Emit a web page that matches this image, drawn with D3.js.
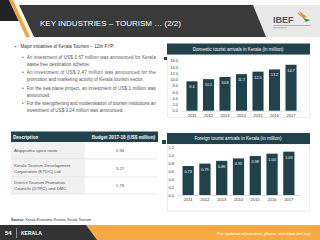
<!DOCTYPE html>
<html>
<head>
<meta charset="utf-8">
<script src="https://cdn.jsdelivr.net/npm/d3@7"></script>
<style>
  body { margin: 0; background: #fff; }
  svg { display: block; font-family: "Liberation Sans", Arial, sans-serif; }
  .axis text { fill: #333; font-size: 4px; }
  .axis path, .axis line { stroke: #bbb; stroke-width: 0.5; }
</style>
</head>
<body>
<script>
// chart data
var years = ["2011", "2012", "2013", "2014", "2015", "2016", "2017"];
var domestic = [9.4, 10.1, 10.8, 11.7, 12.5, 13.2, 14.7];
var foreign = [0.73, 0.79, 0.86, 0.92, 0.98, 1.04, 1.09];
var domesticTicks = [0, 2, 4, 6, 8, 10, 12, 14, 16];
var foreignTicks = [0, 0.2, 0.4, 0.6, 0.8, 1.0, 1.2];

var tableDesc = [["Alappuzha spice route"],
  ["Kerala Tourism Development", "Corporation (KTDC) Ltd."],
  ["District Tourism Promotion", "Councils (DTPC) and DMC"]];
var tableBudget = ["5.94", "3.27", "1.79"];

var bullets = [
  ["An investment of US$ 0.67 million was announced for Kerala", "waste free destination scheme."],
  ["An investment of US$ 2.47 million was announced for the", "promotion and marketing activity of Kerala tourism sector."],
  ["For the sea plane project, an investment of US$ 1 million was", "announced."],
  ["For the strengthening and modernisation of tourism institutions an", "investment of US$ 0.24 million was announced."]
];

var w = 320, h = 240;
var teal = "#21424a";

var svg = d3.select("body").append("svg")
  .attr("width", w)
  .attr("height", h);

//---- header
svg.append("polygon").attr("points", "0,0 9,0 19,21 0,21").attr("fill", "#222");
svg.append("polygon").attr("points", "9,0 13,0 30,37 26,37").attr("fill", "#f2a53f");
svg.append("polygon").attr("points", "253,5 320,5 320,37 266,37").attr("fill", "#e9e9e9");
svg.append("polygon").attr("points", "19,5 253,5 266,37 34,37").attr("fill", "#3a3a3a");
svg.append("text")
  .attr("x", 40).attr("y", 26)
  .attr("fill", "#fff")
  .style("font-size", "8px")
  .text("KEY INDUSTRIES \u2013 TOURISM \u2026 (2/2)");

// logo
svg.append("text")
  .attr("x", 273).attr("y", 23)
  .attr("fill", "#555").style("font-size", "9px").style("font-weight", "bold")
  .text("IBEF");
svg.append("path").attr("d", "M299,11 L307,17 L303,18 Z").attr("fill", "#f08a2b");
svg.append("path").attr("d", "M303,18 L310,20 L306,22 Z").attr("fill", "#2e9a48");
svg.append("line").attr("x1", 298).attr("y1", 13).attr("x2", 304).attr("y2", 18)
  .attr("stroke", "#f08a2b").attr("stroke-width", 1.2);
svg.append("rect").attr("x", 273).attr("y", 25).attr("width", 38).attr("height", 0.7).attr("fill", "#999");
svg.append("rect").attr("x", 273).attr("y", 27.5).attr("width", 14).attr("height", 0.7).attr("fill", "#999");

//---- bullet text
svg.append("text")
  .attr("x", 15).attr("y", 48)
  .attr("fill", "#333").style("font-size", "4.5px")
  .text("\u25aa");
svg.append("text")
  .attr("x", 20.5).attr("y", 48)
  .attr("fill", "#333").style("font-size", "4.6px")
  .text("Major initiatives of Kerala Tourism \u2013 12th FYP:");

var bulletY = [58.5, 74, 90, 105];
bullets.forEach(function(lines, i) {
  svg.append("text")
    .attr("x", 22).attr("y", bulletY[i])
    .attr("fill", "#555").style("font-size", "4.6px")
    .text("\u2022");
  lines.forEach(function(line, j) {
    var t = svg.append("text")
      .attr("x", 26.7).attr("y", bulletY[i] + j * 7.3)
      .attr("fill", "#555").style("font-size", "4.6px")
      .text(line);
    // justify all lines but the last one
    if (j < lines.length - 1) {
      t.attr("textLength", 129).attr("lengthAdjust", "spacing");
    }
  });
});

//---- table
var tx = 11, tw = 147, colSplit = 85;
svg.append("rect").attr("x", tx).attr("y", 131.5).attr("width", tw).attr("height", 10.5).attr("fill", teal);
svg.append("text").attr("x", 13).attr("y", 138.5)
  .attr("fill", "#fff").style("font-size", "4.6px").style("font-weight", "bold")
  .text("Description");
svg.append("text").attr("x", 155).attr("y", 138.5).attr("text-anchor", "end")
  .attr("fill", "#fff").style("font-size", "4.6px").style("font-weight", "bold")
  .text("Budget 2017-18 (US$ million)");

var rowTop = [142, 159, 177];
var rowH = [17, 18, 17];
tableDesc.forEach(function(lines, i) {
  svg.append("rect").attr("x", tx).attr("y", rowTop[i]).attr("width", colSplit - tx).attr("height", rowH[i]).attr("fill", "#f1f1f1");
  svg.append("line").attr("x1", tx).attr("x2", tx + tw)
    .attr("y1", rowTop[i] + rowH[i]).attr("y2", rowTop[i] + rowH[i])
    .attr("stroke", "#d8d8d8").attr("stroke-width", 0.6);
  var mid = rowTop[i] + rowH[i] / 2;
  lines.forEach(function(line, j) {
    svg.append("text")
      .attr("x", 14).attr("y", mid + 1.6 + (j - (lines.length - 1) / 2) * 6.2)
      .attr("fill", "#555").style("font-size", "4.4px")
      .text(line);
  });
  svg.append("text")
    .attr("x", 120).attr("y", mid + 1.6).attr("text-anchor", "middle")
    .attr("fill", "#555").style("font-size", "4.4px")
    .text(tableBudget[i]);
});

// source
var src = svg.append("text").attr("x", 11).attr("y", 221).style("font-size", "3.6px").attr("fill", "#333");
src.append("tspan").style("font-weight", "bold").text("Source: ");
src.append("tspan").text("Kerala Economic Review, Kerala Tourism");

// small dark markers beside the charts
svg.append("rect").attr("x", 164).attr("y", 57).attr("width", 3).attr("height", 3).attr("fill", teal);
svg.append("rect").attr("x", 162).attr("y", 140).attr("width", 4).attr("height", 4).attr("fill", teal);

//---- bar chart helper
function barChart(opt) {
  var g = svg.append("g");
  // frame
  g.append("rect")
    .attr("x", 167.5).attr("y", opt.boxTop).attr("width", 142).attr("height", opt.boxBottom - opt.boxTop)
    .attr("fill", "#fff").attr("stroke", "#e2e2e2").attr("stroke-width", 0.6);
  // title bar
  g.append("rect").attr("x", 167).attr("y", opt.titleTop).attr("width", 143).attr("height", 11).attr("fill", teal);
  g.append("text")
    .attr("x", 238).attr("y", opt.titleTop + 7.2).attr("text-anchor", "middle")
    .attr("fill", "#fff").style("font-size", "4.6px")
    .text(opt.title);

  var x = d3.scaleBand().domain(years).range(opt.xRange).padding(0.33);
  var y = d3.scaleLinear().domain([0, opt.max]).range([opt.y0, opt.yTop]);

  g.append("g")
    .attr("class", "axis")
    .attr("transform", "translate(" + opt.xRange[0] + ",0)")
    .call(d3.axisLeft(y).tickValues(opt.ticks).tickSize(0).tickPadding(3).tickFormat(d3.format(".1f")))
    .call(function(a) { a.select(".domain").remove(); });

  g.append("g")
    .attr("class", "axis")
    .attr("transform", "translate(0," + opt.y0 + ")")
    .call(d3.axisBottom(x).tickSizeOuter(0).tickSizeInner(0).tickPadding(3.5));

  g.selectAll(".bar")
    .data(opt.values)
    .enter()
    .append("rect")
    .attr("class", "bar")
    .attr("x", function(d, i) { return x(years[i]); })
    .attr("width", x.bandwidth())
    .attr("y", function(d) { return y(d); })
    .attr("height", function(d) { return opt.y0 - y(d); })
    .attr("fill", teal);

  g.selectAll(".val")
    .data(opt.values)
    .enter()
    .append("text")
    .attr("class", "val")
    .attr("x", function(d, i) { return x(years[i]) + x.bandwidth() / 2; })
    .attr("y", function(d) { return y(d) + 7; })
    .attr("text-anchor", "middle")
    .attr("fill", "#fff").style("font-size", "3.8px")
    .text(function(d) { return opt.fmt(d); });
}

barChart({
  title: "Domestic tourist arrivals in Kerala (in million)",
  values: domestic, ticks: domesticTicks, max: 16,
  titleTop: 43.5, boxTop: 54.5, boxBottom: 117.5,
  xRange: [181, 302], y0: 110.7, yTop: 60.7,
  fmt: d3.format(".1f")
});

barChart({
  title: "Foreign tourist arrivals in Kerala (in million)",
  values: foreign, ticks: foreignTicks, max: 1.2,
  titleTop: 133, boxTop: 144, boxBottom: 211,
  xRange: [177, 300], y0: 195, yTop: 147.3,
  fmt: d3.format(".2f")
});

//---- footer
svg.append("rect").attr("x", 0).attr("y", 225).attr("width", w).attr("height", 15).attr("fill", "#f5aa45");
svg.append("polygon").attr("points", "0,225 86,225 97,240 0,240").attr("fill", "#333");
svg.append("text").attr("x", 5).attr("y", 235)
  .attr("fill", "#fff").style("font-size", "6px").style("font-weight", "bold").text("54");
svg.append("line").attr("x1", 16.5).attr("x2", 16.5).attr("y1", 228).attr("y2", 238)
  .attr("stroke", "#ccc").attr("stroke-width", 0.6);
svg.append("text").attr("x", 21).attr("y", 234.8)
  .attr("fill", "#fff").style("font-size", "5px").style("font-weight", "bold").text("KERALA");
svg.append("text").attr("x", 310).attr("y", 234.5).attr("text-anchor", "end")
  .attr("fill", "#fff").style("font-size", "4.2px")
  .text("For updated information, please visit www.ibef.org");
</script>
</body>
</html>
